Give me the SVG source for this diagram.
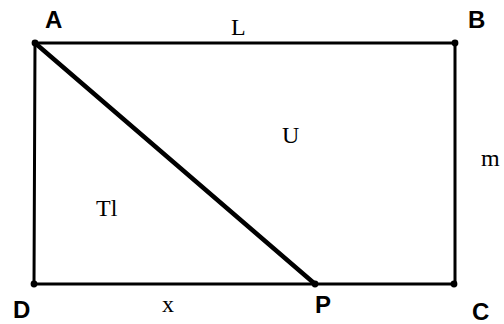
<svg xmlns="http://www.w3.org/2000/svg" width="504" height="324" viewBox="0 0 504 324">
<style>
.edge{stroke:#000;stroke-width:3;fill:none;stroke-linecap:round}
.diag{stroke:#000;stroke-width:4.5;fill:none;stroke-linecap:round}
.dot{fill:#000}
.pt{font-family:"Liberation Sans",Arial,sans-serif;font-weight:bold;font-size:24px;fill:#000}
.lbl{font-family:"Liberation Serif","Times New Roman",serif;font-size:24px;fill:#000}
</style>
<rect width="504" height="324" fill="#fff"/>
<g id="connectors">
<line class="edge" x1="35" y1="43" x2="455" y2="43"/>
<line class="edge" x1="455" y1="43" x2="455" y2="284"/>
<line class="edge" x1="455" y1="284" x2="34" y2="284"/>
<line class="edge" x1="34" y1="284" x2="35" y2="43"/>
<line class="diag" x1="35" y1="43" x2="315" y2="284"/>
</g>
<g id="A"><circle class="dot" cx="35" cy="43" r="3.4"/><text class="pt" x="45" y="28">A</text></g>
<g id="B"><circle class="dot" cx="455" cy="43" r="3.4"/><text class="pt" x="468" y="28">B</text></g>
<g id="C"><circle class="dot" cx="454" cy="284" r="3.4"/><text class="pt" x="472" y="320">C</text></g>
<g id="D"><circle class="dot" cx="34" cy="284" r="3.4"/><text class="pt" x="13" y="318">D</text></g>
<g id="P"><circle class="dot" cx="315" cy="284" r="3.4"/><text class="pt" x="315" y="313">P</text></g>
<g id="labels">
<text class="lbl" x="231" y="35">L</text>
<text class="lbl" x="282" y="143">U</text>
<text class="lbl" x="481" y="166">m</text>
<text class="lbl" x="96" y="216">Tl</text>
<text class="lbl" x="162" y="312">x</text>
</g>
</svg>
